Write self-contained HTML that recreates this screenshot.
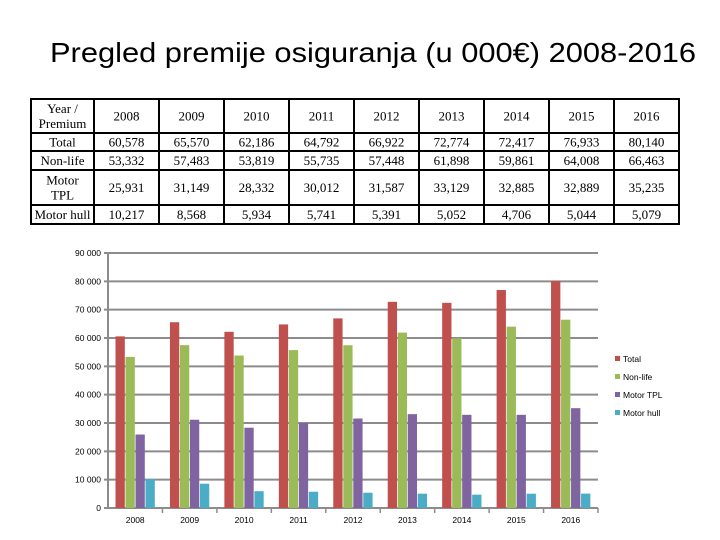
<!DOCTYPE html>
<html><head><meta charset="utf-8"><style>
body{margin:0;background:#fff;width:720px;height:540px;overflow:hidden}
svg{display:block}
</style></head><body>
<svg id="c" width="720" height="540" xmlns="http://www.w3.org/2000/svg">
<text x="373" y="62" text-anchor="middle" font-family="Liberation Sans, sans-serif" font-size="28" textLength="646" lengthAdjust="spacingAndGlyphs" fill="#000">Pregled premije osiguranja (u 000€) 2008-2016</text>
<g id="table"></g>
<g id="plot"></g>
</svg>
<script>
const years=["2008","2009","2010","2011","2012","2013","2014","2015","2016"];
const total=[60578,65570,62186,64792,66922,72774,72417,76933,80140];
const nonLife=[53332,57483,53819,55735,57448,61898,59861,64008,66463];
const motorTPL=[25931,31149,28332,30012,31587,33129,32885,32889,35235];
const motorHull=[10217,8568,5934,5741,5391,5052,4706,5044,5079];
const yTicks=[0,10000,20000,30000,40000,50000,60000,70000,80000,90000];
const seriesNames=["Total","Non-life","Motor TPL","Motor hull"];

const NS="http://www.w3.org/2000/svg";
function mk(tag,attrs,parent){const e=document.createElementNS(NS,tag);for(const k in attrs)e.setAttribute(k,attrs[k]);parent.appendChild(e);return e;}
function fmt(v){return v.toLocaleString('en-US');}
function fmtTick(v){return v===0?"0":String(v).replace(/(\d+)(\d{3})$/,"$1 $2");}

// table
const tg=document.getElementById('table');
const tx0=31,c0w=63,cw=65,rows=[99,133,151,170,205,224];
const rowLabels=[["Year /","Premium"],["Total"],["Non-life"],["Motor","TPL"],["Motor hull"]];
const rowData=[null,total,nonLife,motorTPL,motorHull];
const tf="Liberation Serif, serif";
const right=tx0+c0w+cw*years.length;
mk('rect',{x:tx0,y:rows[0],width:right-tx0,height:rows[5]-rows[0],fill:'none',stroke:'#000','stroke-width':2},tg);
for(let i=1;i<5;i++){const l=mk('line',{x1:tx0,x2:right,y1:rows[i],y2:rows[i],stroke:'#000','stroke-width':2},tg);}
for(let j=0;j<years.length;j++){const x=tx0+c0w+cw*j;mk('line',{x1:x,x2:x,y1:rows[0],y2:rows[5],stroke:'#000','stroke-width':2},tg);}
for(let r=0;r<5;r++){
  const yc=(rows[r]+rows[r+1])/2;
  const lab=rowLabels[r];
  lab.forEach((s,k)=>{
    const t=mk('text',{x:tx0+c0w/2,y:yc+4.5+(k-(lab.length-1)/2)*15,'text-anchor':'middle','font-family':tf,'font-size':13},tg);
    t.textContent=s;
    
    
  });
  for(let j=0;j<years.length;j++){
    const t=mk('text',{x:tx0+c0w+cw*j+cw/2,y:yc+4.5,'text-anchor':'middle','font-family':tf,'font-size':13},tg);
    t.textContent=r===0?years[j]:fmt(rowData[r][j]);
    
    
  }
}

// chart
const pg=document.getElementById('plot');
const px0=108,px1=598,py0=508,py1=253,ymax=90000;
const yS=v=>py0-(v/ymax)*(py0-py1);
const catW=(px1-px0)/years.length;
const colors=["#c0504d","#9bbb59","#8064a2","#4bacc6"];
const series=[total,nonLife,motorTPL,motorHull];
const ff="Liberation Sans, sans-serif";
yTicks.forEach(v=>{
  const y=yS(v);
  const g=mk('line',{x1:px0-4,x2:px1,y1:y,y2:y,stroke:'#8c8c8c','stroke-width':2},pg);
  
  
  const t=mk('text',{x:101,y:y+3,'text-anchor':'end','font-family':ff,'font-size':8.5,fill:'#000'},pg);
  t.textContent=fmtTick(v);
  
  
});
mk('line',{x1:px0,x2:px0,y1:py1,y2:py0,stroke:'#8c8c8c','stroke-width':2},pg);
const bw=9.3,gap=0.7,off=7.5;
years.forEach((yr,i)=>{
  const cx=px0+catW*i;
  series.forEach((s,k)=>{
    const y=yS(s[i]);
    const b=mk('rect',{x:cx+off+k*(bw+gap),y:y,width:bw,height:py0-y,fill:colors[k]},pg);
    
    
  });
  const tk=mk('line',{x1:cx+catW,x2:cx+catW,y1:py0,y2:py0+5,stroke:'#8c8c8c','stroke-width':1.5},pg);
  const t=mk('text',{x:cx+catW/2,y:523,'text-anchor':'middle','font-family':ff,'font-size':8.5},pg);
  t.textContent=yr;
  
  
});
seriesNames.forEach((n,k)=>{
  const y=359+k*18;
  const r=mk('rect',{x:615,y:y-3,width:5,height:5,fill:colors[k]},pg);
  
  
  const t=mk('text',{x:623,y:y+3,'font-family':ff,'font-size':8.5},pg);
  t.textContent=n;
  
  
});
</script>
</body></html>
